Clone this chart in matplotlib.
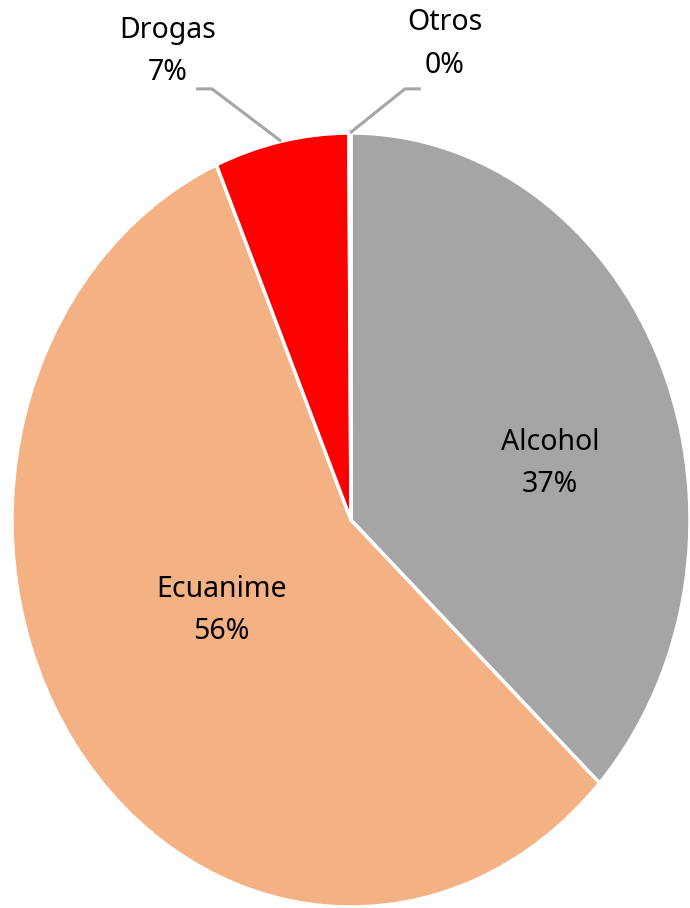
import numpy as np
import matplotlib
matplotlib.use('Agg')
from matplotlib import pyplot as plt

# data
categories = ['Alcohol', 'Ecuanime', 'Drogas', 'Otros']
values = [36.9, 56.6, 6.4, 0.1]
pct_labels = ['37%', '56%', '7%', '0%']
colors = ['#A5A5A5', '#F4B183', '#FF0000', '#7F7F7F']

plt.rcParams['font.family'] = ['Noto Sans', 'DejaVu Sans']

fig = plt.figure(figsize=(6.9, 9.08), dpi=100)
ax = fig.add_axes([12 / 690, 1 / 908, 678 / 690, 774 / 908])

wedges, _ = ax.pie(values, colors=colors, startangle=90, counterclock=False,
                   wedgeprops=dict(edgecolor='white', linewidth=2.5))
ax.set_aspect('auto')
ax.set_xlim(-1, 1)
ax.set_ylim(-1, 1)
ax.axis('off')

fs = 20.5
ls = 1.6
# inside labels
ax.text(0.587, 0.147, categories[0] + '\n' + pct_labels[0], ha='center', va='center',
        fontsize=fs, linespacing=ls)
ax.text(-0.381, -0.233, categories[1] + '\n' + pct_labels[1], ha='center', va='center',
        fontsize=fs, linespacing=ls)

# outside labels with leader lines
line_col = '#A6A6A6'
for i, (tx, ty, elbow_x, end_x) in zip([2, 3], [(-0.54, 1.21, -0.41, -0.457),
                                            (0.277, 1.23, 0.159, 0.206)]):
    w = wedges[i]
    mid = np.deg2rad((w.theta1 + w.theta2) / 2)
    px, py = np.cos(mid) * 1.0, np.sin(mid) * 1.0
    ly = 1.114
    ax.plot([px, elbow_x, end_x], [py, ly, ly], color=line_col, lw=2.2,
            clip_on=False, solid_capstyle='butt')
    ax.text(tx, ty, categories[i] + '\n' + pct_labels[i], ha='center', va='center',
            fontsize=fs, linespacing=ls, clip_on=False)

plt.savefig('out.png', dpi=100)
